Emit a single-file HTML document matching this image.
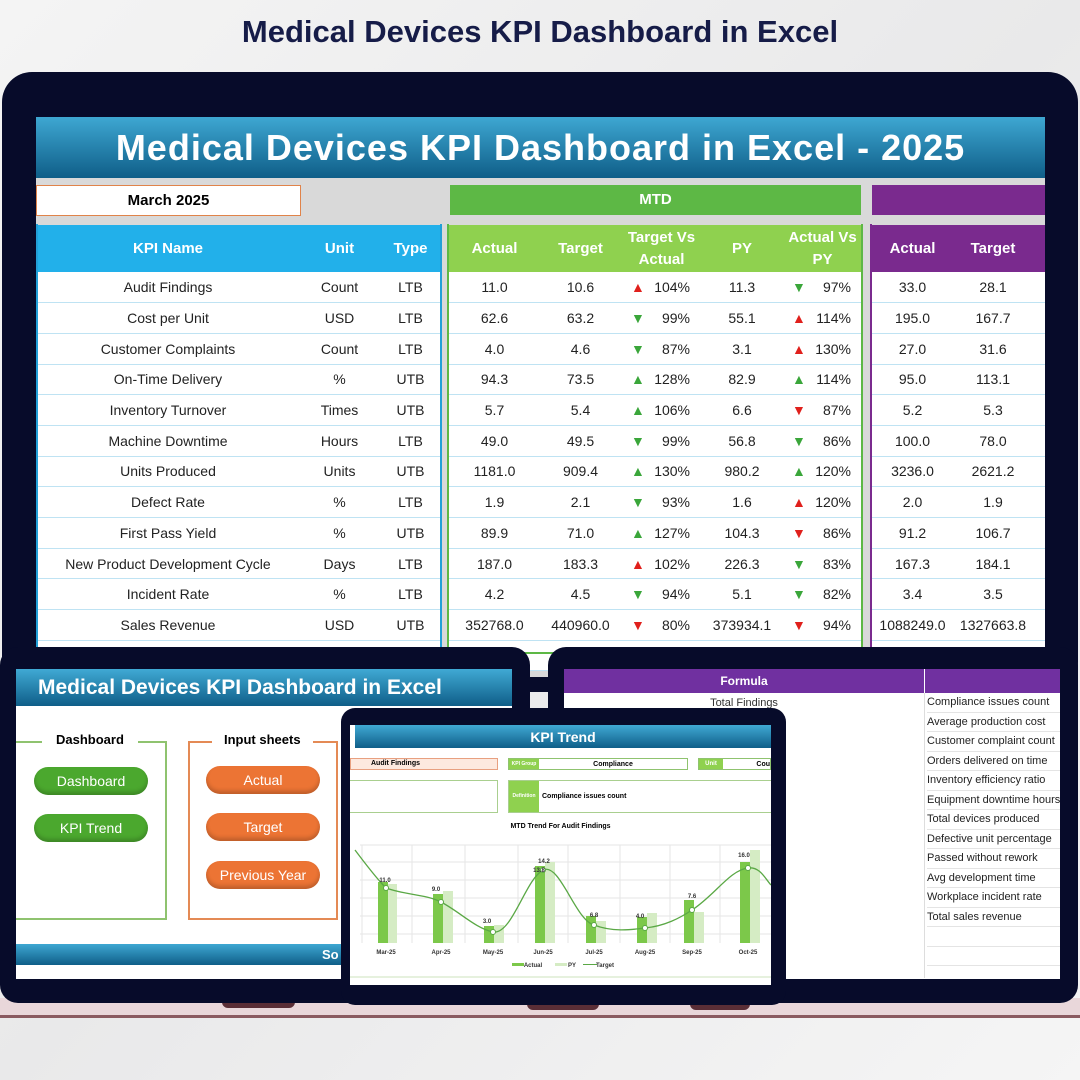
<!DOCTYPE html>
<html><head><meta charset="utf-8"><style>
*{margin:0;padding:0;box-sizing:border-box}
body{width:1080px;height:1080px;overflow:hidden;position:relative;background:linear-gradient(135deg,#f4f4f4,#e9e9ea 50%,#f5f5f5);font-family:"Liberation Sans",sans-serif}
.abs{position:absolute}
#title{left:0;top:14px;width:1080px;text-align:center;font-size:31px;font-weight:bold;color:#161c48}
.frame{background:#070b2a;border-radius:30px}
table{border-collapse:collapse;table-layout:fixed;font-size:14px;color:#222}
td{height:30.7px;text-align:center;border-bottom:1px solid #bfe3f3;white-space:nowrap;overflow:hidden;background:#fff}
td.g{background:#d9d9d9;border:none}
th{height:47px;color:#fff;font-size:15px;font-weight:bold;line-height:22px}
th.b{background:#22b0ea}th.gr{background:#8fd14f}th.p{background:#7a2a8e}th.g{background:#d9d9d9}
.ar{display:flex;justify-content:space-between;padding:0 12px 0 10px}
.r{color:#e0201c}.gn{color:#3aa63a}
.btn{position:absolute;width:114px;height:28px;border-radius:14px;color:#fff;font-size:14px;text-align:center;line-height:28px;box-shadow:inset 0 -3px 4px rgba(0,0,0,.2)}
.rl{position:absolute;left:927px;font-size:11px;color:#222;width:133px;border-bottom:1px solid #e4e4e4;height:19.5px;line-height:19px;white-space:nowrap;overflow:hidden}
.fx{display:flex;align-items:center}
</style></head><body>
<div id="title" class="abs">Medical Devices KPI Dashboard in Excel</div>

<div class="abs frame" style="left:2px;top:72px;width:1076px;height:620px"></div>
<div class="abs" style="left:36px;top:117px;width:1009px;height:560px;background:#d9d9d9"></div>
<div class="abs" style="left:36px;top:117px;width:1009px;height:61px;background:linear-gradient(#3ea7d2,#0f5e88);color:#fff;font-size:36px;font-weight:bold;text-align:center;line-height:62px;letter-spacing:1px">Medical Devices KPI Dashboard in Excel - 2025</div>
<div class="abs" style="left:36px;top:185px;width:265px;height:31px;background:#fff;border:1px solid #e0834a;font-size:15px;font-weight:bold;text-align:center;line-height:29px">March 2025</div>
<div class="abs" style="left:450px;top:185px;width:411px;height:30px;background:#5db845;color:#fff;font-size:15px;font-weight:bold;text-align:center;line-height:30px">MTD</div>
<div class="abs" style="left:872px;top:185px;width:173px;height:30px;background:#7a2a8e"></div>

<table class="abs" style="left:36px;top:225px;width:1009px">
<colgroup><col style="width:264px"><col style="width:79px"><col style="width:63px"><col style="width:7px"><col style="width:91px"><col style="width:81px"><col style="width:81px"><col style="width:80px"><col style="width:81px"><col style="width:9px"><col style="width:81px"><col style="width:80px"><col style="width:12px"></colgroup>
<tr><th class="b">KPI Name</th><th class="b">Unit</th><th class="b">Type</th><th class="g"></th><th class="gr">Actual</th><th class="gr">Target</th><th class="gr">Target Vs Actual</th><th class="gr">PY</th><th class="gr">Actual Vs PY</th><th class="g"></th><th class="p">Actual</th><th class="p">Target</th><th class="p"></th></tr>
<tr><td>Audit Findings</td><td>Count</td><td>LTB</td><td class="g"></td><td>11.0</td><td>10.6</td><td><div class="ar"><span class="r">▲</span>104%</div></td><td>11.3</td><td><div class="ar"><span class="gn">▼</span>97%</div></td><td class="g"></td><td>33.0</td><td>28.1</td><td></td></tr>
<tr><td>Cost per Unit</td><td>USD</td><td>LTB</td><td class="g"></td><td>62.6</td><td>63.2</td><td><div class="ar"><span class="gn">▼</span>99%</div></td><td>55.1</td><td><div class="ar"><span class="r">▲</span>114%</div></td><td class="g"></td><td>195.0</td><td>167.7</td><td></td></tr>
<tr><td>Customer Complaints</td><td>Count</td><td>LTB</td><td class="g"></td><td>4.0</td><td>4.6</td><td><div class="ar"><span class="gn">▼</span>87%</div></td><td>3.1</td><td><div class="ar"><span class="r">▲</span>130%</div></td><td class="g"></td><td>27.0</td><td>31.6</td><td></td></tr>
<tr><td>On-Time Delivery</td><td>%</td><td>UTB</td><td class="g"></td><td>94.3</td><td>73.5</td><td><div class="ar"><span class="gn">▲</span>128%</div></td><td>82.9</td><td><div class="ar"><span class="gn">▲</span>114%</div></td><td class="g"></td><td>95.0</td><td>113.1</td><td></td></tr>
<tr><td>Inventory Turnover</td><td>Times</td><td>UTB</td><td class="g"></td><td>5.7</td><td>5.4</td><td><div class="ar"><span class="gn">▲</span>106%</div></td><td>6.6</td><td><div class="ar"><span class="r">▼</span>87%</div></td><td class="g"></td><td>5.2</td><td>5.3</td><td></td></tr>
<tr><td>Machine Downtime</td><td>Hours</td><td>LTB</td><td class="g"></td><td>49.0</td><td>49.5</td><td><div class="ar"><span class="gn">▼</span>99%</div></td><td>56.8</td><td><div class="ar"><span class="gn">▼</span>86%</div></td><td class="g"></td><td>100.0</td><td>78.0</td><td></td></tr>
<tr><td>Units Produced</td><td>Units</td><td>UTB</td><td class="g"></td><td>1181.0</td><td>909.4</td><td><div class="ar"><span class="gn">▲</span>130%</div></td><td>980.2</td><td><div class="ar"><span class="gn">▲</span>120%</div></td><td class="g"></td><td>3236.0</td><td>2621.2</td><td></td></tr>
<tr><td>Defect Rate</td><td>%</td><td>LTB</td><td class="g"></td><td>1.9</td><td>2.1</td><td><div class="ar"><span class="gn">▼</span>93%</div></td><td>1.6</td><td><div class="ar"><span class="r">▲</span>120%</div></td><td class="g"></td><td>2.0</td><td>1.9</td><td></td></tr>
<tr><td>First Pass Yield</td><td>%</td><td>UTB</td><td class="g"></td><td>89.9</td><td>71.0</td><td><div class="ar"><span class="gn">▲</span>127%</div></td><td>104.3</td><td><div class="ar"><span class="r">▼</span>86%</div></td><td class="g"></td><td>91.2</td><td>106.7</td><td></td></tr>
<tr><td>New Product Development Cycle</td><td>Days</td><td>LTB</td><td class="g"></td><td>187.0</td><td>183.3</td><td><div class="ar"><span class="r">▲</span>102%</div></td><td>226.3</td><td><div class="ar"><span class="gn">▼</span>83%</div></td><td class="g"></td><td>167.3</td><td>184.1</td><td></td></tr>
<tr><td>Incident Rate</td><td>%</td><td>LTB</td><td class="g"></td><td>4.2</td><td>4.5</td><td><div class="ar"><span class="gn">▼</span>94%</div></td><td>5.1</td><td><div class="ar"><span class="gn">▼</span>82%</div></td><td class="g"></td><td>3.4</td><td>3.5</td><td></td></tr>
<tr><td>Sales Revenue</td><td>USD</td><td>UTB</td><td class="g"></td><td>352768.0</td><td>440960.0</td><td><div class="ar"><span class="r">▼</span>80%</div></td><td>373934.1</td><td><div class="ar"><span class="r">▼</span>94%</div></td><td class="g"></td><td>1088249.0</td><td>1327663.8</td><td></td></tr>
<tr><td></td><td></td><td></td><td class="g"></td><td></td><td></td><td></td><td></td><td></td><td class="g"></td><td></td><td></td><td></td></tr>
</table>
<div class="abs" style="left:36px;top:224px;width:406px;height:430px;border:2px solid #22a0d8;border-top:none"></div>
<div class="abs" style="left:447px;top:224px;width:416px;height:430px;border:2px solid #5db845;border-top:none"></div>
<div class="abs" style="left:870px;top:224px;width:176px;height:430px;border-left:2px solid #7a2a8e"></div>

<div class="abs" style="left:0;top:998px;width:1080px;height:20px;background:#e9d7da;border-bottom:3px solid #8a5a60"></div>
<div class="abs" style="left:222px;top:998px;width:73px;height:10px;background:#5a2e36;border-radius:0 0 6px 6px"></div>
<div class="abs" style="left:527px;top:1000px;width:72px;height:10px;background:#5a2e36;border-radius:0 0 6px 6px"></div>
<div class="abs" style="left:690px;top:1000px;width:60px;height:10px;background:#5a2e36;border-radius:0 0 6px 6px"></div>

<div class="abs frame" style="left:0;top:647px;width:530px;height:356px;border-radius:18px"></div>
<div class="abs" style="left:16px;top:669px;width:496px;height:310px;background:#fff"></div>
<div class="abs" style="left:16px;top:669px;width:496px;height:37px;background:linear-gradient(#40a9d4,#0f5e88);color:#fff;font-size:21px;font-weight:bold;line-height:38px;padding-left:22px">Medical Devices KPI Dashboard in Excel</div>
<div class="abs" style="left:16px;top:741px;width:151px;height:179px;border:2px solid #8fc36f;border-left:none"></div>
<div class="abs" style="left:42px;top:732px;background:#fff;padding:0 14px;font-size:13px;font-weight:bold">Dashboard</div>
<div class="abs" style="left:188px;top:741px;width:150px;height:179px;border:2px solid #e48a55"></div>
<div class="abs" style="left:212px;top:732px;background:#fff;padding:0 12px;font-size:13px;font-weight:bold">Input sheets</div>
<div class="btn" style="left:34px;top:767px;background:#4ba82e">Dashboard</div>
<div class="btn" style="left:34px;top:814px;background:#4ba82e">KPI Trend</div>
<div class="btn" style="left:206px;top:766px;background:#ec7434">Actual</div>
<div class="btn" style="left:206px;top:813px;background:#ec7434">Target</div>
<div class="btn" style="left:206px;top:861px;background:#ec7434">Previous Year</div>
<div class="abs" style="left:16px;top:944px;width:496px;height:21px;background:linear-gradient(#3ea7d2,#0f5e88);color:#fff;font-size:13px;font-weight:bold;line-height:22px;padding-left:306px">So</div>

<div class="abs frame" style="left:548px;top:647px;width:530px;height:356px;border-radius:18px"></div>
<div class="abs" style="left:564px;top:669px;width:496px;height:310px;background:#fff"></div>
<div class="abs" style="left:564px;top:669px;width:360px;height:24px;background:#7030a0;color:#fff;font-size:12px;font-weight:bold;text-align:center;line-height:24px">Formula</div>
<div class="abs" style="left:925px;top:669px;width:135px;height:24px;background:#7030a0"></div>
<div class="abs" style="left:924px;top:693px;width:1px;height:285px;background:#ddd"></div>
<div class="abs" style="left:564px;top:697px;width:360px;text-align:center;font-size:11px;color:#333">Total Findings</div>
<div class="rl" style="top:693px">Compliance issues count</div>
<div class="rl" style="top:712.5px">Average production cost</div>
<div class="rl" style="top:732px">Customer complaint count</div>
<div class="rl" style="top:751.5px">Orders delivered on time</div>
<div class="rl" style="top:771px">Inventory efficiency ratio</div>
<div class="rl" style="top:790.5px">Equipment downtime hours</div>
<div class="rl" style="top:810px">Total devices produced</div>
<div class="rl" style="top:829.5px">Defective unit percentage</div>
<div class="rl" style="top:849px">Passed without rework</div>
<div class="rl" style="top:868.5px">Avg development time</div>
<div class="rl" style="top:888px">Workplace incident rate</div>
<div class="rl" style="top:907.5px">Total sales revenue</div>
<div class="rl" style="top:927px"></div>
<div class="rl" style="top:946.5px"></div>

<div class="abs frame" style="left:341px;top:708px;width:445px;height:297px;border-radius:14px"></div>
<div class="abs" style="left:350px;top:725px;width:421px;height:260px;background:#fff"></div>
<div class="abs" style="left:355px;top:725px;width:416px;height:23px;background:linear-gradient(#40a9d4,#0f5e88);color:#fff;font-size:14px;font-weight:bold;text-align:center;line-height:24px">KPI Trend</div>
<div class="abs" style="left:350px;top:758px;width:148px;height:12px;background:#fde9df;border:1px solid #e8a080;font-size:7px;font-weight:bold;line-height:10px;padding-left:20px">Audit Findings</div>
<div class="abs fx" style="left:508px;top:758px;width:180px;height:12px;border:1px solid #8fc36f;font-size:7px;font-weight:bold"><div style="width:30px;height:10px;line-height:10px;background:#8fd14f;color:#fff;font-size:5px;text-align:center;flex:none">KPI Group</div><div style="flex:1;text-align:center">Compliance</div></div>
<div class="abs fx" style="left:698px;top:758px;width:73px;height:12px;border:1px solid #8fc36f;font-size:7px;font-weight:bold"><div style="width:24px;height:10px;line-height:10px;background:#8fd14f;color:#fff;font-size:6px;text-align:center;flex:none">Unit</div><div style="flex:1;text-align:right">Cou</div></div>
<div class="abs" style="left:350px;top:780px;width:148px;height:33px;border:1px solid #a9cf8f;border-left:none"></div>
<div class="abs fx" style="left:508px;top:780px;width:263px;height:33px;border:1px solid #a9cf8f;border-right:none;font-size:7px;font-weight:bold"><div style="width:30px;height:31px;line-height:31px;background:#8fd14f;color:#fff;font-size:5px;text-align:center;flex:none">Definition</div><div style="padding-left:3px">Compliance issues count</div></div>
<div class="abs" style="left:350px;top:823px;width:421px;text-align:center;font-size:7px;font-weight:bold">MTD Trend For Audit Findings</div>
<svg class="abs" style="left:350px;top:830px" width="421" height="150" viewBox="350 830 421 150">
<g stroke="#e6e6e6" stroke-width="1">
<line x1="360" y1="845" x2="771" y2="845"/><line x1="360" y1="862" x2="771" y2="862"/><line x1="360" y1="880" x2="771" y2="880"/><line x1="360" y1="898" x2="771" y2="898"/><line x1="360" y1="916" x2="771" y2="916"/><line x1="360" y1="934" x2="771" y2="934"/>
<line x1="362" y1="845" x2="362" y2="943"/><line x1="412" y1="845" x2="412" y2="943"/><line x1="465" y1="845" x2="465" y2="943"/><line x1="518" y1="845" x2="518" y2="943"/><line x1="568" y1="845" x2="568" y2="943"/><line x1="620" y1="845" x2="620" y2="943"/><line x1="670" y1="845" x2="670" y2="943"/><line x1="720" y1="845" x2="720" y2="943"/>
</g>
<g fill="#d5ecc4">
<rect x="387" y="884" width="10" height="59"/><rect x="443" y="891" width="10" height="52"/><rect x="494" y="925" width="10" height="18"/><rect x="545" y="862" width="10" height="81"/><rect x="596" y="921" width="10" height="22"/><rect x="647" y="913" width="10" height="30"/><rect x="694" y="912" width="10" height="31"/><rect x="750" y="850" width="10" height="93"/>
</g>
<g fill="#7cc84a">
<rect x="378" y="882" width="10" height="61"/><rect x="433" y="894" width="10" height="49"/><rect x="484" y="926" width="10" height="17"/><rect x="535" y="866" width="10" height="77"/><rect x="586" y="916" width="10" height="27"/><rect x="637" y="917" width="10" height="26"/><rect x="684" y="900" width="10" height="43"/><rect x="740" y="862" width="10" height="81"/>
</g>
<path d="M355 850 C370 870,378 880,386 888 C405 895,425 894,441 902 C460 912,475 928,493 932 C512 935,525 880,543 870 C560 862,575 920,594 925 C612 932,630 930,645 928 C665 926,680 918,692 910 C715 895,730 870,748 868 C760 866,766 880,771 885" fill="none" stroke="#5aa845" stroke-width="1.3"/>
<g fill="#fff" stroke="#5aa845"><circle cx="386" cy="888" r="2.5"/><circle cx="441" cy="902" r="2.5"/><circle cx="493" cy="932" r="2.5"/><circle cx="543" cy="870" r="2.5"/><circle cx="594" cy="925" r="2.5"/><circle cx="645" cy="928" r="2.5"/><circle cx="692" cy="910" r="2.5"/><circle cx="748" cy="868" r="2.5"/></g>
<g font-size="6" font-weight="bold" fill="#333" font-family="Liberation Sans" text-anchor="middle">
<text x="386" y="954">Mar-25</text><text x="441" y="954">Apr-25</text><text x="493" y="954">May-25</text><text x="543" y="954">Jun-25</text><text x="594" y="954">Jul-25</text><text x="645" y="954">Aug-25</text><text x="692" y="954">Sep-25</text><text x="748" y="954">Oct-25</text>
<text x="385" y="882">11.0</text><text x="436" y="891">9.0</text><text x="487" y="923">3.0</text><text x="544" y="863">14.2</text><text x="539" y="872">13.8</text><text x="594" y="917">6.8</text><text x="640" y="918">4.0</text><text x="692" y="898">7.6</text><text x="744" y="857">16.0</text>
<rect x="512" y="963" width="12" height="3" fill="#7cc84a"/><text x="533" y="967">Actual</text><rect x="555" y="963" width="12" height="3" fill="#d5ecc4"/><text x="572" y="967">PY</text><line x1="583" y1="964.5" x2="597" y2="964.5" stroke="#5aa845"/><text x="605" y="967">Target</text>
</g>
<line x1="350" y1="977" x2="771" y2="977" stroke="#cde3bd"/>
</svg>
</body></html>
